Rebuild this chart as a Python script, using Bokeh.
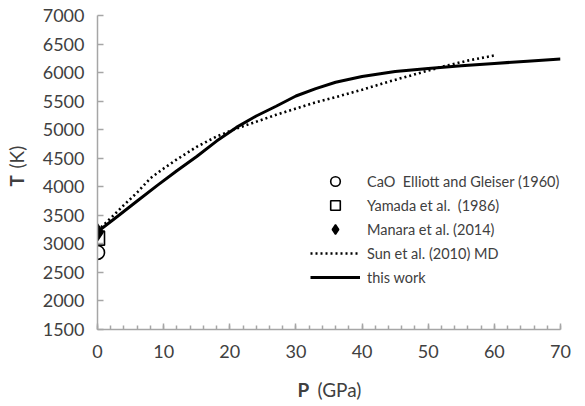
import math
from bokeh.plotting import figure
from bokeh.models import Range1d, FixedTicker, Legend, LegendItem, Label
from bokeh.embed import file_html
from bokeh.resources import INLINE

# ---- data ----
p_this = [0, 3, 6, 9, 12, 15, 18, 21, 24, 27, 30, 33, 36, 40, 45, 50, 55, 60, 65, 70]
t_this = [3210, 3480, 3750, 4020, 4280, 4530, 4800, 5040, 5240, 5410, 5590, 5720, 5830,
          5930, 6020, 6070, 6120, 6160, 6200, 6240]

p_sun = [0, 2, 4, 6, 8, 10, 12, 15, 18, 21, 24, 27, 30, 33, 36, 40, 44, 48, 52, 56, 60]
t_sun = [3230, 3450, 3680, 3900, 4150, 4320, 4480, 4700, 4880, 5020, 5140, 5260, 5370,
         5480, 5570, 5700, 5840, 5970, 6100, 6210, 6300]

p_elliott = [0]
t_elliott = [2850]
p_yamada = [0]
t_yamada = [3100]
p_manara = [0]
t_manara = [3200]

x_ticks = [0, 10, 20, 30, 40, 50, 60, 70]
y_ticks = [1500, 2000, 2500, 3000, 3500, 4000, 4500, 5000, 5500, 6000, 6500, 7000]

FONT = "Lato"
TXT = "#404040"
AX = "#a6a6a6"

p = figure(width=585, height=406, output_backend="svg", toolbar_location=None,
           x_range=Range1d(0, 70), y_range=Range1d(1500, 7000),
           min_border_left=97, min_border_right=25, min_border_top=15, min_border_bottom=77)
p.outline_line_color = None
p.xgrid.visible = False
p.ygrid.visible = False
p.background_fill_color = "white"
p.border_fill_color = "white"

for ax in (p.xaxis[0], p.yaxis[0]):
    ax.axis_line_color = AX
    ax.axis_line_width = 1.5
    ax.major_tick_line_color = AX
    ax.major_tick_line_width = 1.5
    ax.minor_tick_line_color = AX
    ax.minor_tick_line_width = 1.5
    ax.major_tick_out = 0
    ax.minor_tick_out = 0
    ax.major_label_text_font = FONT
    ax.major_label_text_font_size = "18px"
    ax.major_label_text_color = TXT

p.xaxis.major_label_standoff = 15
p.yaxis.major_label_standoff = 13
p.xaxis.ticker = FixedTicker(ticks=x_ticks, minor_ticks=list(range(0, 71, 2)))
p.xaxis.major_tick_in = 6
p.xaxis.minor_tick_in = 4
p.yaxis.ticker = FixedTicker(ticks=y_ticks, minor_ticks=[])
p.yaxis.major_tick_in = 6
p.yaxis.minor_tick_in = 0

r_el = p.scatter(p_elliott, t_elliott, marker="circle", size=14, fill_color="white",
                 line_color="black", line_width=1.6)
r_ya = p.scatter(p_yamada, t_yamada, marker="square", size=14, fill_color="white",
                 line_color="black", line_width=1.6)
r_sun = p.line(p_sun, t_sun, line_color="black", line_width=2.6, line_dash="2 3")
r_this = p.line(p_this, t_this, line_color="black", line_width=3)
r_ma = p.scatter(p_manara, t_manara, marker="diamond", size=17,
                 fill_color="black", line_color="black", line_width=1.5)

legend = Legend(items=[
    LegendItem(label="CaO  Elliott and Gleiser (1960)", renderers=[r_el]),
    LegendItem(label="Yamada et al.  (1986)", renderers=[r_ya]),
    LegendItem(label="Manara et al. (2014)", renderers=[r_ma]),
    LegendItem(label="Sun et al. (2010) MD", renderers=[r_sun]),
    LegendItem(label="this work", renderers=[r_this]),
], location=(213, 40))
legend.border_line_color = None
legend.background_fill_alpha = 0
legend.padding = 0
legend.margin = 0
legend.spacing = 0
legend.glyph_width = 50
legend.glyph_height = 24
legend.label_height = 24
legend.label_standoff = 7
legend.label_text_font = FONT
legend.label_text_font_size = "14.5px"
legend.label_text_color = TXT
legend.label_text_baseline = "middle"
p.add_layout(legend, "center")

# axis titles (bold symbol + normal unit), placed in side panels so they are not clipped
p.add_layout(Label(x=297, y=389, x_units="canvas", y_units="canvas", text="P",
                   text_font=FONT, text_font_size="19px", text_font_style="bold",
                   text_color=TXT, text_baseline="middle"), "below")
p.add_layout(Label(x=317, y=389, x_units="canvas", y_units="canvas", text="(GPa)",
                   text_font=FONT, text_font_size="19px",
                   text_color=TXT, text_baseline="middle"), "below")
p.add_layout(Label(x=16, y=186, x_units="canvas", y_units="canvas", text="T",
                   text_font=FONT, text_font_size="19px", text_font_style="bold",
                   text_color=TXT, text_baseline="middle", angle=math.pi / 2), "left")
p.add_layout(Label(x=16, y=168, x_units="canvas", y_units="canvas", text="(K)",
                   text_font=FONT, text_font_size="19px",
                   text_color=TXT, text_baseline="middle", angle=math.pi / 2), "right")

open("out.html", "w").write(file_html(p, INLINE))
